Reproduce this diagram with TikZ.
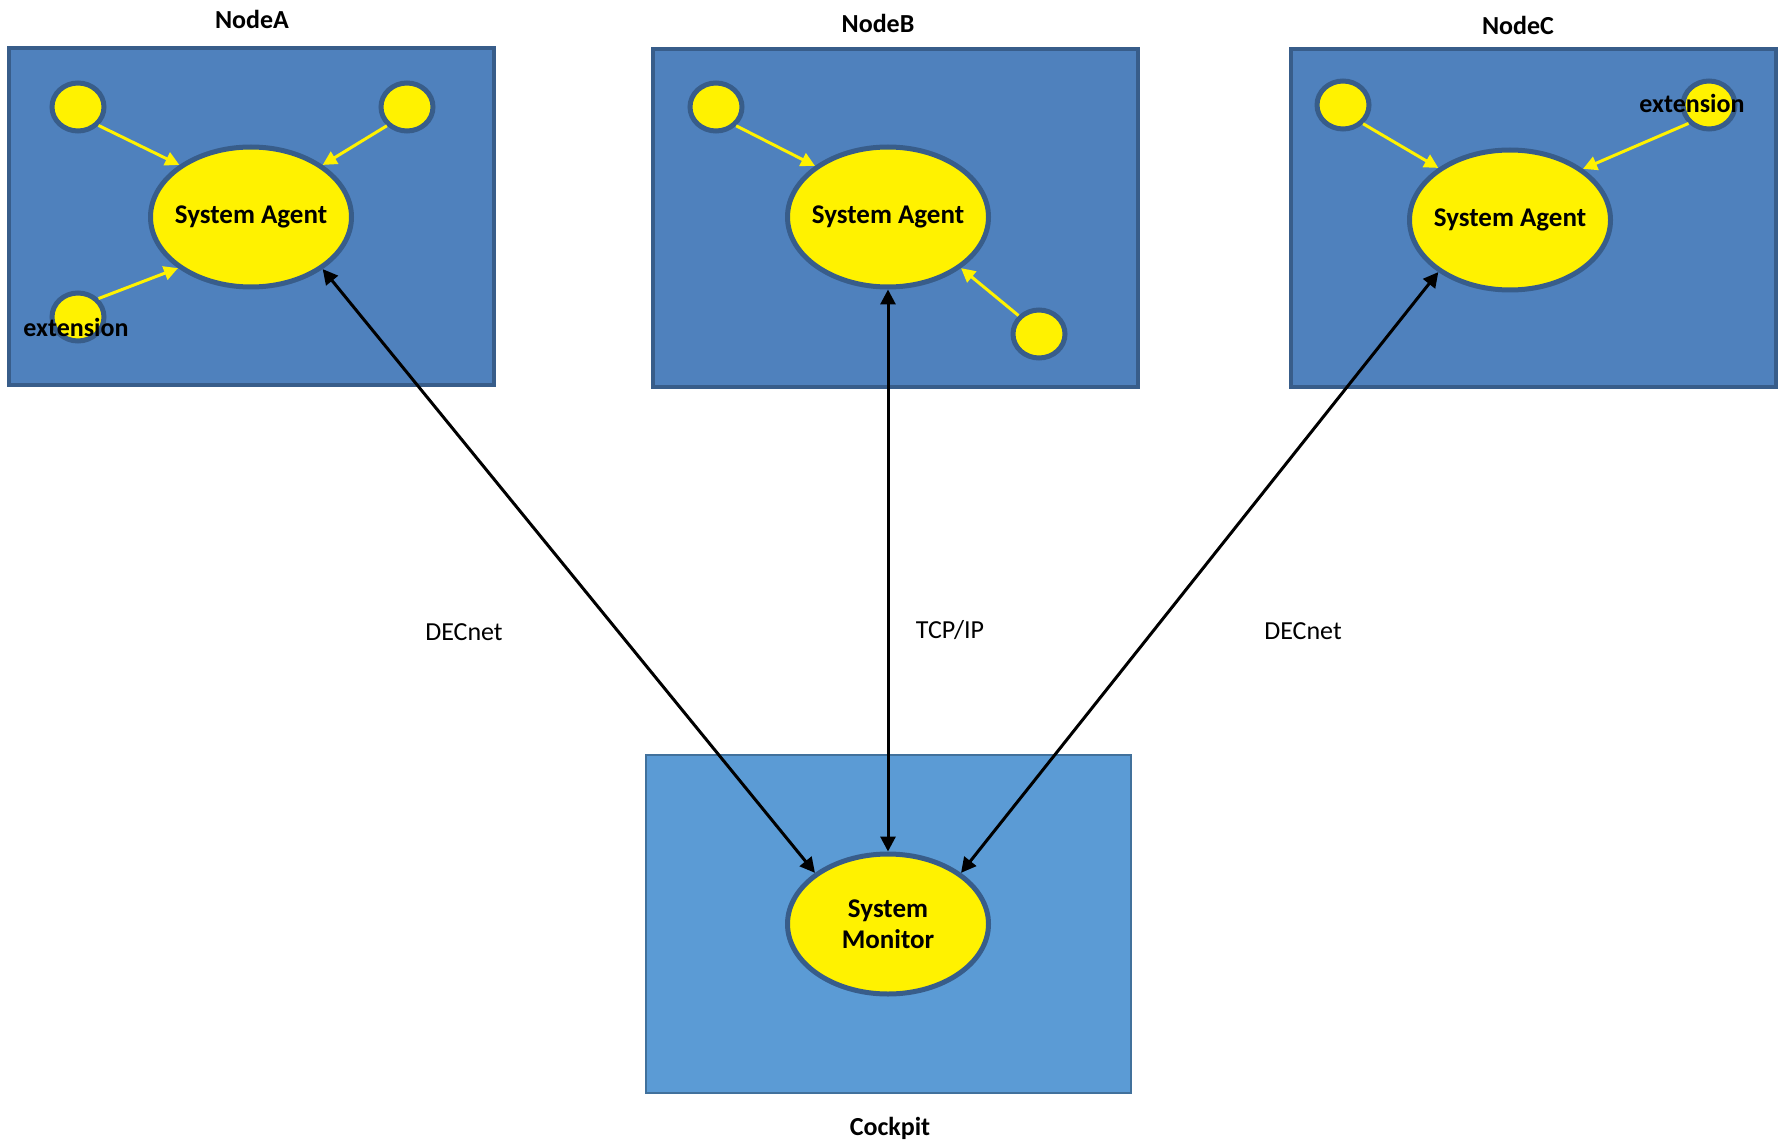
\documentclass[tikz,border=0pt]{standalone}
\usepackage{fontspec}
\setmainfont{Carlito}
\usetikzlibrary{shapes.geometric,arrows.meta}

\definecolor{boxblue}{HTML}{4F81BD}
\definecolor{boxline}{HTML}{385D8A}
\definecolor{pitblue}{HTML}{5B9BD5}
\definecolor{pitline}{HTML}{41719C}

\begin{document}
\begin{tikzpicture}[x = 1pt, y = -1pt,
    every node/.style = {font = \fontsize{26}{30}\selectfont\bfseries, inner sep = 0pt},
    host/.style = {draw = boxline, fill = boxblue, line width = 4pt, minimum width = 485pt, minimum height = 337pt},
    pit/.style = {draw = pitline, fill = pitblue, line width = 2pt, minimum width = 485pt, minimum height = 338pt},
    agent/.style = {ellipse, draw = boxline, fill = yellow, line width = 5pt, minimum width = 201pt, minimum height = 140pt, align = center,
        inner sep = -10pt, font = \fontsize{27}{31}\selectfont\bfseries},
    ext/.style = {ellipse, draw = boxline, fill = yellow, line width = 5pt, minimum width = 52pt, minimum height = 48pt},
    plug/.style = {draw = yellow, line width = 3pt, -{Triangle[length = 14pt, width = 14pt]}},
    link/.style = {draw = black, line width = 3pt, {Triangle[length = 15pt, width = 15pt]}-{Triangle[length = 15pt, width = 15pt]}},
    proto/.style = {font = \fontsize{26}{30}\selectfont}]
    \useasboundingbox (0,0) rectangle (1784,1147);

    % hosts
    \node[host] (boxA) at (251.5,216.5) {};
    \node[host] (boxB) at (895,218) {};
    \node[host] (boxC) at (1533,218) {};
    \node[pit] (pit) at (888.5,924) {};
    \node (titleA) at (252,19) {NodeA};
    \node (titleB) at (878,23) {NodeB};
    \node (titleC) at (1518,25) {NodeC};
    \node (titlePit) at (890,1128) {Cockpit};

    % agents
    \node[agent] (agentA) at (251,217) {System Agent};
    \node[agent] (agentB) at (888,217) {System Agent};
    \node[agent] (agentC) at (1510,220) {System Agent};
    \node[agent] (monitor) at (888,924) {System\\Monitor};

    % extensions
    \node[ext] (a1) at (78,107) {};
    \node[ext] (a2) at (407,107) {};
    \node[ext] (a3) at (78,317) {};
    \node[ext] (b1) at (716,107) {};
    \node[ext] (b2) at (1039,334) {};
    \node[ext] (c1) at (1343,105) {};
    \node[ext] (c2) at (1709,105) {};
    \node (extA) at (76,327) {extension};
    \node (extC) at (1692,103) {extension};

    \draw[plug] (a1.-42) -- (agentA.144);
    \draw[plug] (a2.223) -- (agentA.36);
    \draw[plug] (a3.42) -- (agentA.215);
    \draw[plug] (b1.-43) -- (agentB.145);
    \draw[plug] (b2.138) -- (agentB.-35);
    \draw[plug] (c1.-43) -- (agentC.144);
    \draw[plug] (c2.222) -- (agentC.35);

    % network
    \draw[link] (agentA.-36) -- (monitor.145);
    \draw[link] (agentB.south) -- (monitor.north);
    \draw[link] (agentC.216) -- (monitor.35);
    \node[proto] (netA) at (464,632) {DECnet};
    \node[proto] (netB) at (950,630) {TCP/IP};
    \node[proto] (netC) at (1303,631) {DECnet};
\end{tikzpicture}
\end{document}
